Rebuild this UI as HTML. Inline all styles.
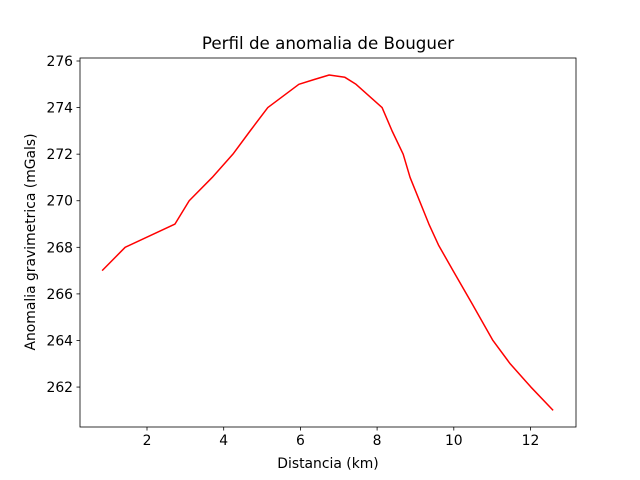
<!DOCTYPE html>
<html><head><meta charset="utf-8"><style>body{margin:0;background:#fff}svg{display:block;font-family:"DejaVu Sans","Liberation Sans",sans-serif}</style></head>
<body>
<svg id="c" width="640" height="480"></svg>
<script>
const xs=[0.83,1.43,2.73,3.1,3.7,4.24,4.69,5.15,5.96,6.35,6.75,7.16,7.45,8.13,8.39,8.68,8.86,9.35,9.6,9.98,10.47,11.02,11.47,12.01,12.59];
const ys=[267,268,269,270,271,272,273,274,275,275.2,275.4,275.3,275,274,273,272,271,269,268.1,267,265.6,264,263,262,261];
const xTicks=[2,4,6,8,10,12];
const yTicks=[262,264,266,268,270,272,274,276];
const L=80,R=576,T=58,B=427;
const sx=v=>70.3+v*38.35, sy=v=>61+(276-v)*23.29;
const s=document.getElementById('c');const NS='http://www.w3.org/2000/svg';
function mk(t,a,txt){const e=document.createElementNS(NS,t);for(const k in a)e.setAttribute(k,a[k]);if(txt!=null)e.textContent=txt;s.appendChild(e);return e;}
let e;
e=mk('rect',{x:L,y:T,width:R-L,height:B-T,fill:'none',stroke:'#000','stroke-width':0.8});


xTicks.forEach(v=>{const x=sx(v);
e=mk('line',{x1:x,x2:x,y1:B,y2:B+3.5,stroke:'#000','stroke-width':0.8});


e=mk('text',{x:x,y:B+18,'font-size':13.9,'text-anchor':'middle'},v);

});
yTicks.forEach(v=>{const y=sy(v);
e=mk('line',{x1:L-3.5,x2:L,y1:y,y2:y,stroke:'#000','stroke-width':0.8});


e=mk('text',{x:L-7,y:y+5,'font-size':13.9,'text-anchor':'end'},v);

});
e=mk('polyline',{points:xs.map((x,i)=>sx(x)+','+sy(ys[i])).join(' '),fill:'none',stroke:'#ff0000','stroke-width':1.5,'stroke-linejoin':'round'});


e=mk('text',{x:328,y:49,'font-size':16.7,'text-anchor':'middle'},'Perfil de anomalia de Bouguer');


e=mk('text',{x:328,y:468,'font-size':13.9,'text-anchor':'middle'},'Distancia (km)');


e=mk('text',{x:35,y:242,'font-size':13.9,'text-anchor':'middle',transform:'rotate(-90 35 242)'},'Anomalia gravimetrica (mGals)');


</script>
</body></html>
